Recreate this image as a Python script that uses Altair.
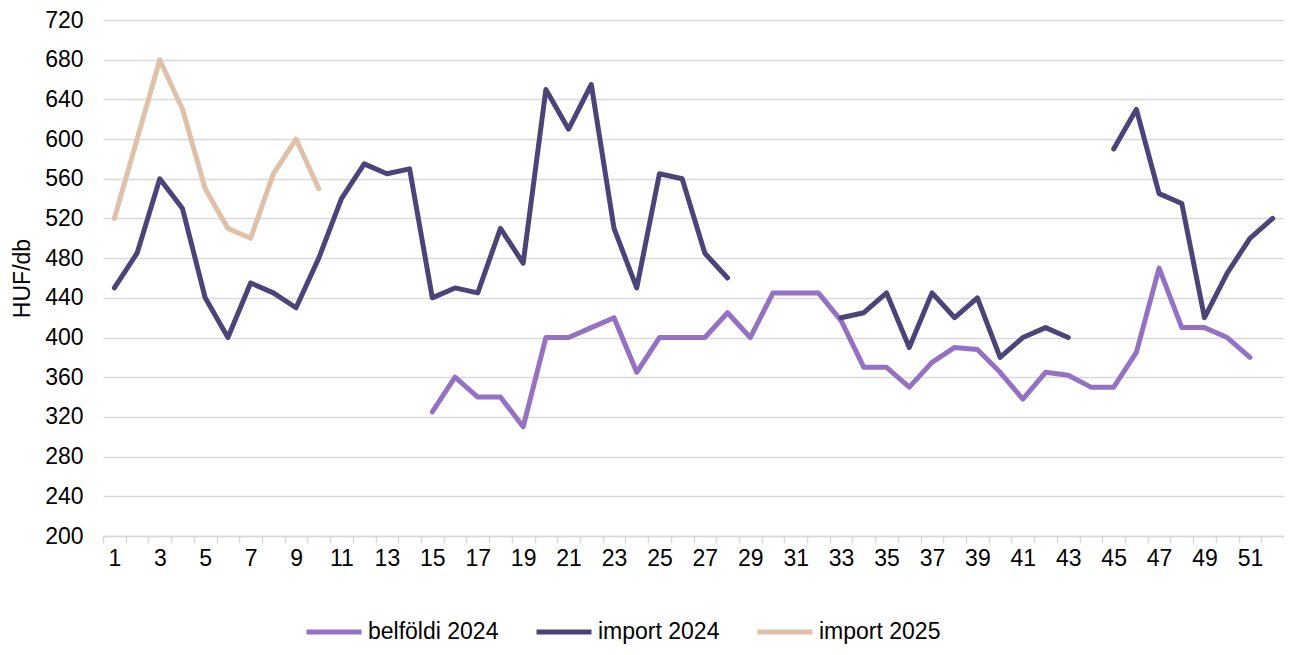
import altair as alt
import pandas as pd

weeks = list(range(1, 53))

series_names = ["belföldi 2024", "import 2024", "import 2025"]
series_colors = ["#9571C4", "#4B4478", "#DFC0A8"]

belfoldi_2024 = [None] * 14 + [
    325, 360, 340, 340, 310, 400, 400, 410, 420, 365, 400, 400, 400, 425, 400,
    445, 445, 445, 417, 370, 370, 350, 375, 390, 388, 365, 338, 365, 362, 350,
    350, 385, 470, 410, 410, 400, 380, None]

import_2024 = [
    450, 485, 560, 530, 440, 400, 455, 445, 430, 480, 540, 575, 565, 570, 440,
    450, 445, 510, 475, 650, 610, 655, 510, 450, 565, 560, 485, 460,
    None, None, None, None,
    420, 425, 445, 390, 445, 420, 440, 380, 400, 410, 400,
    None,
    590, 630, 545, 535, 420, 465, 500, 520]

import_2025 = [520, 600, 680, 630, 550, 510, 500, 565, 600, 550] + [None] * 42

y_ticks = list(range(200, 721, 40))

rows = []
for name, vals in zip(series_names, [belfoldi_2024, import_2024, import_2025]):
    seg = 0
    prev = None
    for w, v in zip(weeks, vals):
        if v is None:
            if prev is not None:
                seg += 1
            prev = None
            continue
        rows.append({"week": w, "value": v, "series": name, "seg": f"{name}-{seg}"})
        prev = v
df = pd.DataFrame(rows)

FONT = "Liberation Sans"
GRID = "#d9d9d9"

chart = alt.Chart(df).mark_line(
    strokeWidth=5, strokeCap="round", strokeJoin="round"
).encode(
    x=alt.X(
        "week:O",
        scale=alt.Scale(type="band", domain=weeks, paddingInner=0, paddingOuter=0),
        axis=alt.Axis(
            title=None,
            labelExpr="datum.value % 2 == 1 ? datum.label : ''",
            labelAngle=0,
            labelOverlap=False,
            tickBand="extent",
            grid=False,
            domain=True,
            domainColor=GRID,
            domainWidth=1.5,
            tickColor=GRID,
            tickWidth=1.5,
            tickSize=7,
            labelFontSize=23,
            labelFont=FONT,
            labelColor="black",
            labelPadding=4,
        ),
    ),
    y=alt.Y(
        "value:Q",
        scale=alt.Scale(domain=[200, 720], nice=False, zero=False),
        axis=alt.Axis(
            values=y_ticks,
            title="HUF/db",
            grid=True,
            gridColor=GRID,
            gridWidth=1.5,
            domain=False,
            ticks=False,
            labelPadding=20,
            labelFontSize=23,
            labelFont=FONT,
            labelColor="black",
            titleFontSize=23,
            titleFont=FONT,
            titleFontWeight="normal",
            titleColor="black",
            titleAngle=-90,
            titleX=-74,
            titleY=258,
            titleAlign="center",
            titleBaseline="alphabetic",
        ),
    ),
    color=alt.Color(
        "series:N",
        scale=alt.Scale(domain=series_names, range=series_colors),
        legend=alt.Legend(
            title=None,
            orient="none",
            legendX=201,
            legendY=582,
            direction="horizontal",
            symbolType="stroke",
            symbolSize=3025,
            symbolStrokeWidth=5,
            labelFontSize=23,
            labelFont=FONT,
            labelColor="black",
            labelOffset=4,
            columnPadding=27,
        ),
    ),
    detail="seg:N",
    order=alt.Order("week:Q"),
).properties(
    width=1181,
    height=516,
    autosize=alt.AutoSizeParams(type="none"),
    padding={"left": 95, "top": 12, "right": 0, "bottom": 111},
    background="white",
).configure_view(stroke=None)

chart.save("out.html", embed_options={"renderer": "svg", "actions": False})
